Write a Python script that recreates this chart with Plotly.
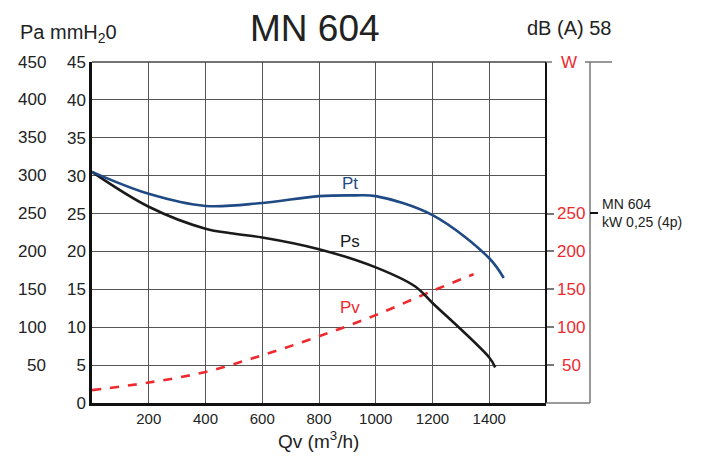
import plotly.graph_objects as go

# ---- data ----
qv_pt = [0, 200, 400, 600, 800, 926, 1000, 1200, 1400, 1451]
pt_mm = [30.5, 27.6, 26.0, 26.4, 27.3, 27.4, 27.3, 24.8, 19.1, 16.5]

qv_ps = [0, 200, 400, 489, 600, 800, 1000, 1138, 1200, 1400, 1421]
ps_mm = [30.5, 25.9, 23.0, 22.4, 21.85, 20.3, 17.9, 15.4, 13.2, 6.0, 4.7]

qv_pv = [0, 200, 400, 600, 800, 1000, 1200, 1345]
pv_mm = [1.7, 2.7, 4.1, 6.3, 8.8, 11.6, 14.8, 17.0]

x_ticks = [200, 400, 600, 800, 1000, 1200, 1400]
mm_ticks = [0, 5, 10, 15, 20, 25, 30, 35, 40, 45]
pa_ticks = [50, 100, 150, 200, 250, 300, 350, 400, 450]
w_ticks = [50, 100, 150, 200, 250]
w_label_pos = 450

series_labels = [("Pt", 908, 29.0, "#1f4a84"), ("Ps", 908, 21.3, "#1a1a1a"), ("Pv", 908, 12.6, "#ee2a2e")]

FONT = "Liberation Sans, Arial, Helvetica, sans-serif"
NARROW = "Liberation Sans Narrow, Liberation Sans, Arial, sans-serif"

# the page adds an 8px body margin, so the figure is drawn 8px smaller and offset
OFF = 8
W, H = 706 - OFF, 457 - OFF
# plot-area edges in window pixels
L, R, T, B = 92, 546, 62, 403
def px(x):
    return (x - L) / (R - L)
def py(y):
    return (B - y) / (B - T)

fig = go.Figure()
fig.add_trace(go.Scatter(x=qv_pv, y=pv_mm, mode="lines", line=dict(color="#ee2a2e", width=2.6, dash="dash", shape="spline"), hoverinfo="skip"))
fig.add_trace(go.Scatter(x=qv_ps, y=ps_mm, mode="lines", line=dict(color="#1a1a1a", width=2.6, shape="spline"), hoverinfo="skip"))
fig.add_trace(go.Scatter(x=qv_pt, y=pt_mm, mode="lines", line=dict(color="#1f4a84", width=2.6, shape="spline"), hoverinfo="skip"))
# invisible traces to attach the secondary axes
fig.add_trace(go.Scatter(x=[0], y=[0], yaxis="y2", mode="lines", line=dict(width=0), hoverinfo="skip"))
fig.add_trace(go.Scatter(x=[0], y=[0], yaxis="y3", mode="lines", line=dict(width=0), hoverinfo="skip"))

annotations = []
for name, xv, yv, col in series_labels:
    annotations.append(dict(x=xv, y=yv, xref="x", yref="y", text=name, showarrow=False,
                            font=dict(family=FONT, size=17, color=col)))
# Pa column
for v in pa_ticks:
    annotations.append(dict(x=px(48), y=v, xref="paper", yref="y3", text=str(v), showarrow=False,
                            xanchor="right", yanchor="middle", font=dict(family=FONT, size=17, color="#222")))
# W column
for v in w_ticks:
    annotations.append(dict(x=px(571), y=v, xref="paper", yref="y2", text=str(v), showarrow=False,
                            xanchor="center", yanchor="middle", font=dict(family=FONT, size=17, color="#ee2a2e")))
annotations.append(dict(x=px(569), y=w_label_pos, xref="paper", yref="y2", text="W", showarrow=False,
                        xanchor="center", yanchor="middle", font=dict(family=FONT, size=17, color="#ee2a2e")))
# header texts
annotations += [
    dict(x=px(315), y=py(28), xref="paper", yref="paper", text="MN 604", showarrow=False,
         xanchor="center", yanchor="middle", font=dict(family=FONT, size=37, color="#222")),
    dict(x=px(18), y=py(33), xref="paper", yref="paper", text="Pa mmH<sub>2</sub>0", showarrow=False,
         xanchor="left", yanchor="middle", font=dict(family=FONT, size=20, color="#222")),
    dict(x=px(569), y=py(28), xref="paper", yref="paper", text="dB (A) 58", showarrow=False,
         xanchor="center", yanchor="middle", font=dict(family=FONT, size=20, color="#222")),
    dict(x=px(600), y=py(213), xref="paper", yref="paper", text="MN 604<br>kW 0,25 (4p)", showarrow=False,
         xanchor="left", yanchor="middle", align="left", font=dict(family=FONT, size=14, color="#222")),
    dict(x=px(318), y=py(440), xref="paper", yref="paper", text="Qv (m<sup>3</sup>/h)", showarrow=False,
         xanchor="center", yanchor="middle", font=dict(family=NARROW, size=19, color="#222")),
]

shapes = [
    # top border
    dict(type="line", xref="paper", yref="paper", x0=0, x1=1, y0=1, y1=1, line=dict(color="#444", width=1.5)),
    # right border of grid
    dict(type="line", xref="paper", yref="paper", x0=1, x1=1, y0=0, y1=1, line=dict(color="#111", width=2)),
    # W axis frame
    dict(type="line", xref="paper", yref="paper", x0=1, x1=px(552), y0=1, y1=1, line=dict(color="#777", width=1.5)),
    dict(type="line", xref="paper", yref="paper", x0=px(585), x1=px(612), y0=1, y1=1, line=dict(color="#777", width=1.5)),
    dict(type="line", xref="paper", yref="paper", x0=px(590), x1=px(590), y0=0, y1=1, line=dict(color="#777", width=1.5)),
    dict(type="line", xref="paper", yref="paper", x0=1, x1=px(590), y0=0, y1=0, line=dict(color="#777", width=1.5)),
    # motor marker tick
    dict(type="line", xref="paper", yref="paper", x0=px(590), x1=px(598), y0=py(213), y1=py(213), line=dict(color="#111", width=2)),
]

fig.update_layout(
    width=W, height=H,
    margin=dict(l=L - OFF, r=706 - R, t=T - OFF, b=457 - B, autoexpand=False),
    paper_bgcolor="white", plot_bgcolor="white",
    showlegend=False,
    xaxis=dict(range=[0, 1600], tickvals=x_ticks, ticktext=[str(v) for v in x_ticks],
               showgrid=True, gridcolor="#555", gridwidth=1, zeroline=False,
               showline=True, linecolor="#111", linewidth=2.5, ticks="",
               tickfont=dict(family=NARROW, size=15, color="#222"), fixedrange=True),
    yaxis=dict(range=[0, 45], tickvals=mm_ticks, ticktext=[str(v) for v in mm_ticks],
               showgrid=True, gridcolor="#555", gridwidth=1, zeroline=False,
               showline=True, linecolor="#111", linewidth=2.5, ticks="",
               tickfont=dict(family=FONT, size=17, color="#222"), fixedrange=True),
    yaxis2=dict(range=[0, 450], overlaying="y", side="right", anchor="x", tickvals=w_ticks,
                showticklabels=False, ticks="outside", ticklen=7, tickcolor="#777", tickwidth=1.5,
                showgrid=False, zeroline=False, showline=False, fixedrange=True),
    yaxis3=dict(range=[0, 450], overlaying="y", side="left", anchor="x", showticklabels=False,
                ticks="", showgrid=False, zeroline=False, showline=False, fixedrange=True),
    annotations=annotations,
    shapes=shapes,
)

fig.write_html("out.html")
